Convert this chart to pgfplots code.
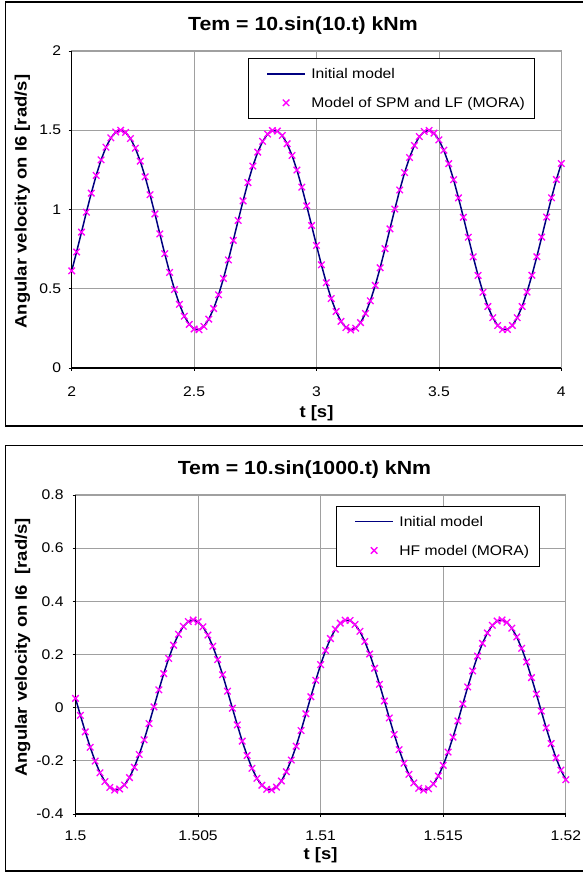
\documentclass[border=0pt]{standalone}
\usepackage{fontspec}
\setmainfont{Liberation Sans}[FakeStretch=1.12]
\usepackage{pgfplots}
\usepackage{pgfplotstable}
\pgfplotsset{compat=1.18}

\definecolor{navyline}{HTML}{000080}
\definecolor{mora}{HTML}{FF00FF}
\definecolor{gridgray}{HTML}{A0A0A0}

% Tem = 10.sin(10.t) kNm
\pgfplotstableread{
t w
2.00 0.613
2.02 0.732
2.04 0.857
2.06 0.983
2.08 1.103
2.10 1.215
2.12 1.313
2.14 1.393
2.16 1.452
2.18 1.489
2.20 1.500
2.22 1.486
2.24 1.448
2.26 1.387
2.28 1.305
2.30 1.206
2.32 1.093
2.34 0.972
2.36 0.846
2.38 0.721
2.40 0.603
2.42 0.495
2.44 0.402
2.46 0.327
2.48 0.275
2.50 0.246
2.52 0.241
2.54 0.262
2.56 0.308
2.58 0.375
2.60 0.462
2.62 0.565
2.64 0.682
2.66 0.805
2.68 0.931
2.70 1.054
2.72 1.170
2.74 1.274
2.76 1.362
2.78 1.430
2.80 1.476
2.82 1.498
2.84 1.495
2.86 1.467
2.88 1.415
2.90 1.341
2.92 1.249
2.94 1.141
2.96 1.023
2.98 0.899
3.00 0.773
3.02 0.651
3.04 0.538
3.06 0.438
3.08 0.356
3.10 0.294
3.12 0.255
3.14 0.240
3.16 0.251
3.18 0.286
3.20 0.344
3.22 0.424
3.24 0.521
3.26 0.632
3.28 0.753
3.30 0.878
3.32 1.003
3.34 1.123
3.36 1.233
3.38 1.328
3.40 1.404
3.42 1.460
3.44 1.492
3.46 1.499
3.48 1.482
3.50 1.439
3.52 1.374
3.54 1.289
3.56 1.188
3.58 1.073
3.60 0.951
3.62 0.825
3.64 0.701
3.66 0.584
3.68 0.478
3.70 0.388
3.72 0.317
3.74 0.268
3.76 0.243
3.78 0.243
3.80 0.268
3.82 0.317
3.84 0.388
3.86 0.479
3.88 0.585
3.90 0.702
3.92 0.826
3.94 0.952
3.96 1.074
3.98 1.189
4.00 1.290
}\lowfreq

% Tem = 10.sin(1000.t) kNm
\pgfplotstableread{
t w
1.5000 0.035
1.5002 -0.029
1.5004 -0.091
1.5006 -0.149
1.5008 -0.201
1.5010 -0.245
1.5012 -0.278
1.5014 -0.300
1.5016 -0.310
1.5018 -0.306
1.5020 -0.291
1.5022 -0.263
1.5024 -0.224
1.5026 -0.176
1.5028 -0.121
1.5030 -0.060
1.5032 0.003
1.5034 0.067
1.5036 0.128
1.5038 0.185
1.5040 0.235
1.5042 0.276
1.5044 0.306
1.5046 0.324
1.5048 0.330
1.5050 0.323
1.5052 0.304
1.5054 0.273
1.5056 0.231
1.5058 0.181
1.5060 0.124
1.5062 0.062
1.5064 -0.002
1.5066 -0.065
1.5068 -0.126
1.5070 -0.180
1.5072 -0.228
1.5074 -0.266
1.5076 -0.292
1.5078 -0.307
1.5080 -0.309
1.5082 -0.299
1.5084 -0.276
1.5086 -0.241
1.5088 -0.197
1.5090 -0.145
1.5092 -0.086
1.5094 -0.023
1.5096 0.041
1.5098 0.103
1.5100 0.162
1.5102 0.215
1.5104 0.260
1.5106 0.295
1.5108 0.318
1.5110 0.329
1.5112 0.328
1.5114 0.313
1.5116 0.287
1.5118 0.249
1.5120 0.202
1.5122 0.148
1.5124 0.088
1.5126 0.025
1.5128 -0.039
1.5130 -0.101
1.5132 -0.158
1.5134 -0.209
1.5136 -0.251
1.5138 -0.283
1.5140 -0.303
1.5142 -0.310
1.5144 -0.305
1.5146 -0.287
1.5148 -0.257
1.5150 -0.217
1.5152 -0.167
1.5154 -0.111
1.5156 -0.050
1.5158 0.014
1.5160 0.078
1.5162 0.138
1.5164 0.194
1.5166 0.242
1.5168 0.281
1.5170 0.310
1.5172 0.326
1.5174 0.330
1.5176 0.321
1.5178 0.299
1.5180 0.266
1.5182 0.223
1.5184 0.172
1.5186 0.113
1.5188 0.051
1.5190 -0.013
1.5192 -0.076
1.5194 -0.135
1.5196 -0.189
1.5198 -0.235
1.5200 -0.271
}\highfreq

\pgfplotsset{
  excelpanel/.style={
    scale only axis, clip=false,
    axis line style={gridgray, line width=1pt},
    grid=major, grid style={gridgray, line width=0.8pt},
    tick pos=left, tick align=outside, major tick length=3pt,
    tick style={black, line width=0.8pt},
    tick label style={font=\fontsize{14}{16}\selectfont},
    /pgf/number format/assume math mode=true,
    /pgf/number format/fixed, /pgf/number format/precision=3,
    title style={font=\fontsize{19}{22}\selectfont\bfseries, anchor=base, yshift=14.6pt},
    label style={font=\fontsize{16.5}{19}\selectfont\bfseries},
    legend cell align=left,
    legend style={draw=black, line width=0.8pt, fill=white, anchor=north west,
      inner xsep=8pt, inner ysep=8.5pt, outer sep=0pt, row sep=15pt, column sep=3.5pt,
      font=\fontsize{14}{16}\selectfont,
      nodes={inner sep=2pt, text height=10pt, text depth=0pt}},
  },
  initline/.style={color=navyline, line width=1.5pt, no markers,
    legend image code/.code={\path (0pt,0pt); \draw[##1] (10pt,0pt) -- (48pt,0pt);}},
  moramarks/.style={color=mora, only marks, mark=x, mark size=4.6pt,
    mark options={line width=1.3pt},
    legend image code/.code={\path (0pt,0pt) (48pt,0pt); \draw[##1] plot coordinates {(29pt,0pt)};}},
}

\begin{document}
\begin{tikzpicture}
\useasboundingbox (0pt,0pt) rectangle (583pt,872pt);

% panel frames
\draw[black, line width=1.3pt] (590pt,870pt) -- (5.6pt,870pt) -- (5.6pt,446pt) -- (590pt,446pt);
\draw[black, line width=1.3pt] (590pt,426.3pt) -- (5.6pt,426.3pt) -- (5.6pt,1pt) -- (590pt,1pt);

% top chart
\begin{axis}[excelpanel,
    at={(71.7pt,504pt)}, anchor=south west,
    width=489.6pt, height=317pt,
    xmin=2, xmax=4, ymin=0, ymax=2,
    xtick={2,2.5,3,3.5,4}, ytick={0,0.5,1,1.5,2},
    xticklabel style={yshift=-12pt},
    yticklabel style={xshift=-4pt},
    title={Tem = 10.sin(10.t) kNm},
    title style={at={(0.4724,1)}},
    xlabel={t [s]}, ylabel={Angular velocity on I6 [rad/s]},
    xlabel style={at={(axis description cs:0.5,-0.1435)}, anchor=center},
    ylabel style={at={(axis description cs:-0.1005,0.525)}, anchor=center},
    legend style={at={(0.3607,0.977)}},
  ]
  \addplot[initline] table[x=t, y=w] {\lowfreq};
  \addlegendentry{Initial model}
  \addplot[moramarks] table[x=t, y=w] {\lowfreq};
  \addlegendentry{Model of SPM and LF (MORA)}
  \draw[black, line width=1.3pt] (rel axis cs:0,1) -- (rel axis cs:0,0) -- (rel axis cs:1,0);
\end{axis}

% bottom chart
\begin{axis}[excelpanel,
    at={(75.5pt,58pt)}, anchor=south west,
    width=490.3pt, height=319pt,
    xmin=1.5, xmax=1.52, ymin=-0.4, ymax=0.8,
    xtick={1.5,1.505,1.51,1.515,1.52}, ytick={-0.4,-0.2,0,0.2,0.4,0.6,0.8},
    xticklabel style={yshift=-10.5pt},
    yticklabel style={xshift=-5.5pt},
    title={Tem = 10.sin(1000.t) kNm},
    title style={at={(0.467,1)}},
    xlabel={t [s]}, ylabel={Angular velocity on I6\ \ [rad/s]},
    xlabel style={at={(axis description cs:0.5,-0.130)}, anchor=center},
    ylabel style={at={(axis description cs:-0.108,0.522)}, anchor=center},
    legend style={at={(0.5321,0.9655)}},
  ]
  \addplot[initline] table[x=t, y=w] {\highfreq};
  \addlegendentry{Initial model}
  \addplot[moramarks] table[x=t, y=w] {\highfreq};
  \addlegendentry{HF model (MORA)}
  \draw[black, line width=1.3pt] (rel axis cs:0,1) -- (rel axis cs:0,0) -- (rel axis cs:1,0);
\end{axis}
\end{tikzpicture}
\end{document}
